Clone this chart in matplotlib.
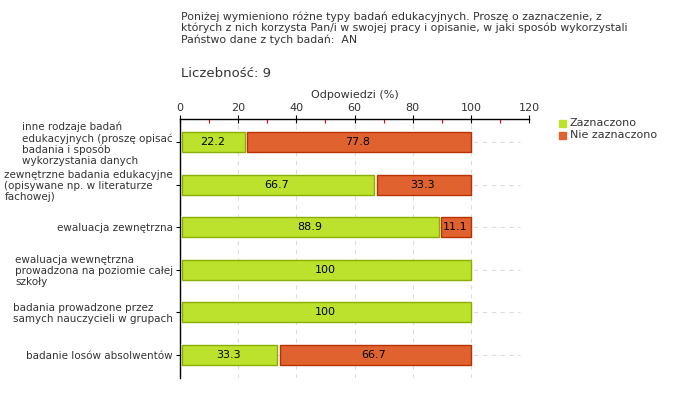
import matplotlib.pyplot as plt
import numpy as np

categories = [
    "inne rodzaje badań\nedukacyjnych (proszę opisać\nbadania i sposób\nwykorzystania danych",
    "zewnętrzne badania edukacyjne\n(opisywane np. w literaturze\nfachowej)",
    "ewaluacja zewnętrzna",
    "ewaluacja wewnętrzna\nprowadzona na poziomie całej\nszkoły",
    "badania prowadzone przez\nsamych nauczycieli w grupach",
    "badanie losów absolwentów",
]
zaznaczono = [22.2, 66.7, 88.9, 100, 100, 33.3]
nie_zaznaczono = [77.8, 33.3, 11.1, 0, 0, 66.7]
series_names = ["Zaznaczono", "Nie zaznaczono"]
xticks = [0, 20, 40, 60, 80, 100, 120]

title = ("Poniżej wymieniono różne typy badań edukacyjnych. Proszę o zaznaczenie, z\n"
         "których z nich korzysta Pan/i w swojej pracy i opisanie, w jaki sposób wykorzystali\n"
         "Państwo dane z tych badań:  AN")
count_text = "Liczebność: 9"

GREEN, GREEN_EDGE = "#bde22e", "#8aae00"
ORANGE, ORANGE_EDGE = "#e0632f", "#b83200"
TEXT = "#333333"
GAP = 1.0  # small white gap between segments, data units

fig = plt.figure(figsize=(6.8, 4.0), dpi=100)
ax = fig.add_axes([0.2647, 0.055, 0.5133, 0.6475])

y = np.arange(len(categories))
h = 0.47
for i in y:
    g, o = zaznaczono[i], nie_zaznaczono[i]
    if g > 0:
        ax.barh(i, g - 0.8, left=0.8, height=h, color=GREEN, edgecolor=GREEN_EDGE,
                linewidth=1, zorder=3)
        ax.text(g / 2, i, f"{g:g}", ha="center", va="center", fontsize=8,
                color="black", zorder=4)
    if o > 0:
        ax.barh(i, o - GAP, left=g + GAP, height=h, color=ORANGE, edgecolor=ORANGE_EDGE,
                linewidth=1, zorder=3)
        ax.text(g + o / 2, i, f"{o:g}", ha="center", va="center", fontsize=8,
                color="black", zorder=4)

ax.set_xlim(0, 120)
ax.set_ylim(len(categories) - 0.45, -0.55)
ax.xaxis.set_ticks_position("top")
ax.xaxis.set_label_position("top")
ax.set_xticks(xticks)
ax.set_xticks(np.arange(10, 120, 20), minor=True)
ax.tick_params(axis="x", which="major", direction="inout", length=6, width=0.8,
               labelsize=8, labelcolor=TEXT, pad=1)
ax.tick_params(axis="x", which="minor", direction="in", length=3, width=0.8, color="red")
ax.set_xlabel("Odpowiedzi (%)", fontsize=8, color=TEXT, labelpad=4)

ax.set_yticks(y)
ax.set_yticklabels(categories, fontsize=7.5, color=TEXT, multialignment="left",
                   linespacing=1.1)
ax.tick_params(axis="y", direction="out", length=3, width=0.8, pad=2)

for s in ["right", "bottom"]:
    ax.spines[s].set_visible(False)
ax.spines["top"].set_linewidth(1)
ax.spines["left"].set_linewidth(1)

for xv in xticks[1:]:
    ax.axvline(xv, color="#dddddd", linestyle=(0, (4, 4)), linewidth=0.8, zorder=1)
for yi in y:
    ax.axhline(yi, color="#dddddd", linestyle=(0, (4, 4)), linewidth=0.8, zorder=1,
               xmax=0.975)

fig.text(181 / 680, 1 - 11 / 400, title, ha="left", va="top", fontsize=7.8,
         color=TEXT, linespacing=1.12)
fig.text(181 / 680, 1 - 67 / 400, count_text, ha="left", va="top", fontsize=9.5,
         color=TEXT)

for k, (name, col) in enumerate(zip(series_names, [GREEN, ORANGE])):
    yy = 1 - (123 + 12 * k) / 400
    fig.patches.append(plt.Rectangle((559 / 680, yy - 3.5 / 400), 7 / 680, 7 / 400,
                                     transform=fig.transFigure, color=col))
    fig.text(570 / 680, yy, name, ha="left", va="center", fontsize=8, color=TEXT)

fig.savefig("out.png", dpi=100)
